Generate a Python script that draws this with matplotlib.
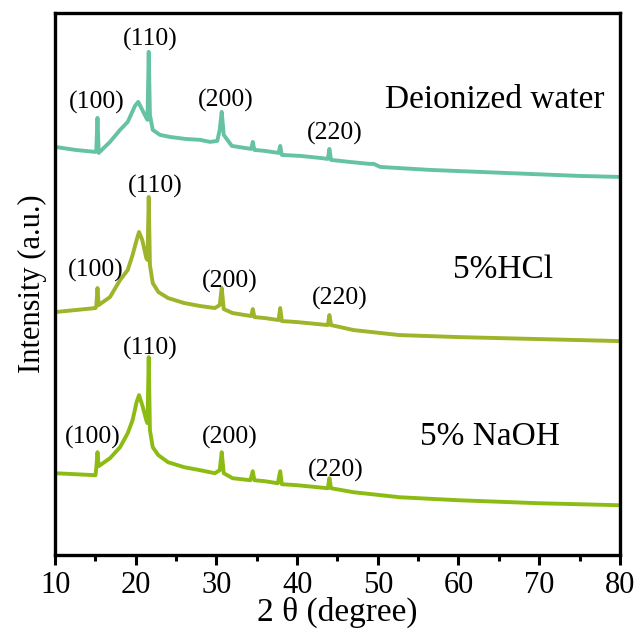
import matplotlib.pyplot as plt

plt.rcParams['font.family'] = ['Liberation Serif', 'DejaVu Serif']

# 2theta / intensity (a.u., stacked offsets as seen in picture)
tt_water = [10.0, 12.5, 15.0, 15.1, 15.25, 15.4, 16.8, 18.05, 19.0, 19.9, 20.3, 20.8,
            21.3, 21.45, 21.6, 21.75, 22.1, 23.0, 24.2, 26.1, 28.0, 29.2, 30.1, 30.4,
            30.65, 30.9, 31.9, 33.5, 34.3, 34.5, 34.7, 36.0, 37.7, 37.9, 38.1, 40.4,
            42.8, 43.8, 44.0, 44.2, 46.5, 49.0, 49.5, 50.3, 56.5, 62.7, 68.8, 75.0, 80.0]
i_water = [408, 405, 403, 404, 437, 402, 413, 425, 433, 449, 453, 445,
           437, 435, 503, 440, 425, 420, 418, 416, 415, 413, 414, 425,
           443, 420, 409, 407, 406, 413, 405, 404, 402, 409, 400, 399,
           397, 396, 406, 395, 393, 391, 391, 388, 385, 383, 381, 379, 378]

tt_hcl = [10.0, 12.5, 15.0, 15.1, 15.25, 15.4, 16.8, 18.05, 19.0, 19.6, 20.1, 20.4,
          20.8, 21.3, 21.45, 21.6, 21.75, 22.1, 22.8, 24.0, 26.0, 28.0, 29.8, 30.4,
          30.65, 30.9, 32.0, 34.3, 34.5, 34.7, 36.0, 37.7, 37.9, 38.1, 40.0, 43.8,
          44.0, 44.2, 47.0, 52.7, 60.0, 70.0, 80.0]
i_hcl = [243, 245, 247, 249, 267, 250, 258, 275, 285, 300, 315, 323,
         315, 297, 295, 358, 290, 272, 263, 257, 252, 249, 247, 250,
         267, 246, 242, 239, 246, 238, 237, 235, 247, 234, 233, 230,
         240, 230, 225, 220, 218, 216, 214]

tt_naoh = [10.0, 12.5, 15.0, 15.1, 15.25, 15.4, 16.8, 18.05, 19.0, 19.6, 20.1, 20.4,
           20.8, 21.3, 21.45, 21.6, 21.75, 22.1, 22.8, 24.0, 26.0, 28.0, 29.8, 30.4,
           30.65, 30.9, 32.0, 34.2, 34.5, 34.7, 36.0, 37.6, 37.9, 38.1, 40.0, 43.8,
           44.0, 44.2, 47.0, 52.7, 60.0, 70.0, 80.0]
i_naoh = [82, 81, 80, 87, 103, 89, 97, 108, 122, 135, 153, 160,
          150, 135, 132, 198, 125, 108, 100, 93, 88, 85, 82, 85,
          103, 82, 77, 75, 84, 75, 74, 72, 84, 71, 70, 67,
          77, 67, 63, 58, 55, 52, 50]

sample_names = ['Deionized water', '5%HCl', '5% NaOH']
sample_colors = ['#66c2a5', '#9eb42a', '#8cbc14']
peak_labels = ['(100)', '(110)', '(200)', '(220)']

fig = plt.figure(figsize=(6.41, 6.39), dpi=100)
ax = fig.add_axes([0.086, 0.131, 0.881, 0.849])

ax.plot(tt_water, i_water, color=sample_colors[0], lw=2.8)
ax.plot(tt_hcl, i_hcl, color=sample_colors[1], lw=2.8)
ax.plot(tt_naoh, i_naoh, color=sample_colors[2], lw=2.8)

# peak labels
fs_peak = 18.5
pos_water = [(15.1, 452), (21.8, 515), (31.2, 454), (44.7, 421)]
pos_hcl = [(15.0, 285), (22.4, 368), (31.7, 274), (45.3, 257)]
pos_naoh = [(14.7, 118), (21.8, 207), (31.7, 118), (44.8, 85)]
for pos in (pos_water, pos_hcl, pos_naoh):
    for lab, (x, y) in zip(peak_labels, pos):
        ax.text(x, y, lab, fontsize=fs_peak, ha='center', va='center')

ax.text(50.9, 455, sample_names[0], fontsize=24, ha='left', va='center')
ax.text(59.3, 285, sample_names[1], fontsize=24, ha='left', va='center')
ax.text(55.2, 118, sample_names[2], fontsize=24, ha='left', va='center')

ax.set_xlim(10, 80)
ax.set_ylim(0, 542)
ax.set_xticks(range(10, 81, 10))
ax.set_xticks(range(15, 80, 10), minor=True)
ax.set_yticks([])
ax.tick_params(axis='x', which='major', direction='out', length=7, width=2.2,
               labelsize=22, pad=4)
ax.tick_params(axis='x', which='minor', direction='out', length=4, width=2.2)
for s in ax.spines.values():
    s.set_linewidth(2.4)

ax.set_xlabel('2 θ (degree)', fontsize=24, labelpad=-2)
ax.set_ylabel('Intensity (a.u.)', fontsize=22, labelpad=6)

plt.savefig('out.png', dpi=100)
